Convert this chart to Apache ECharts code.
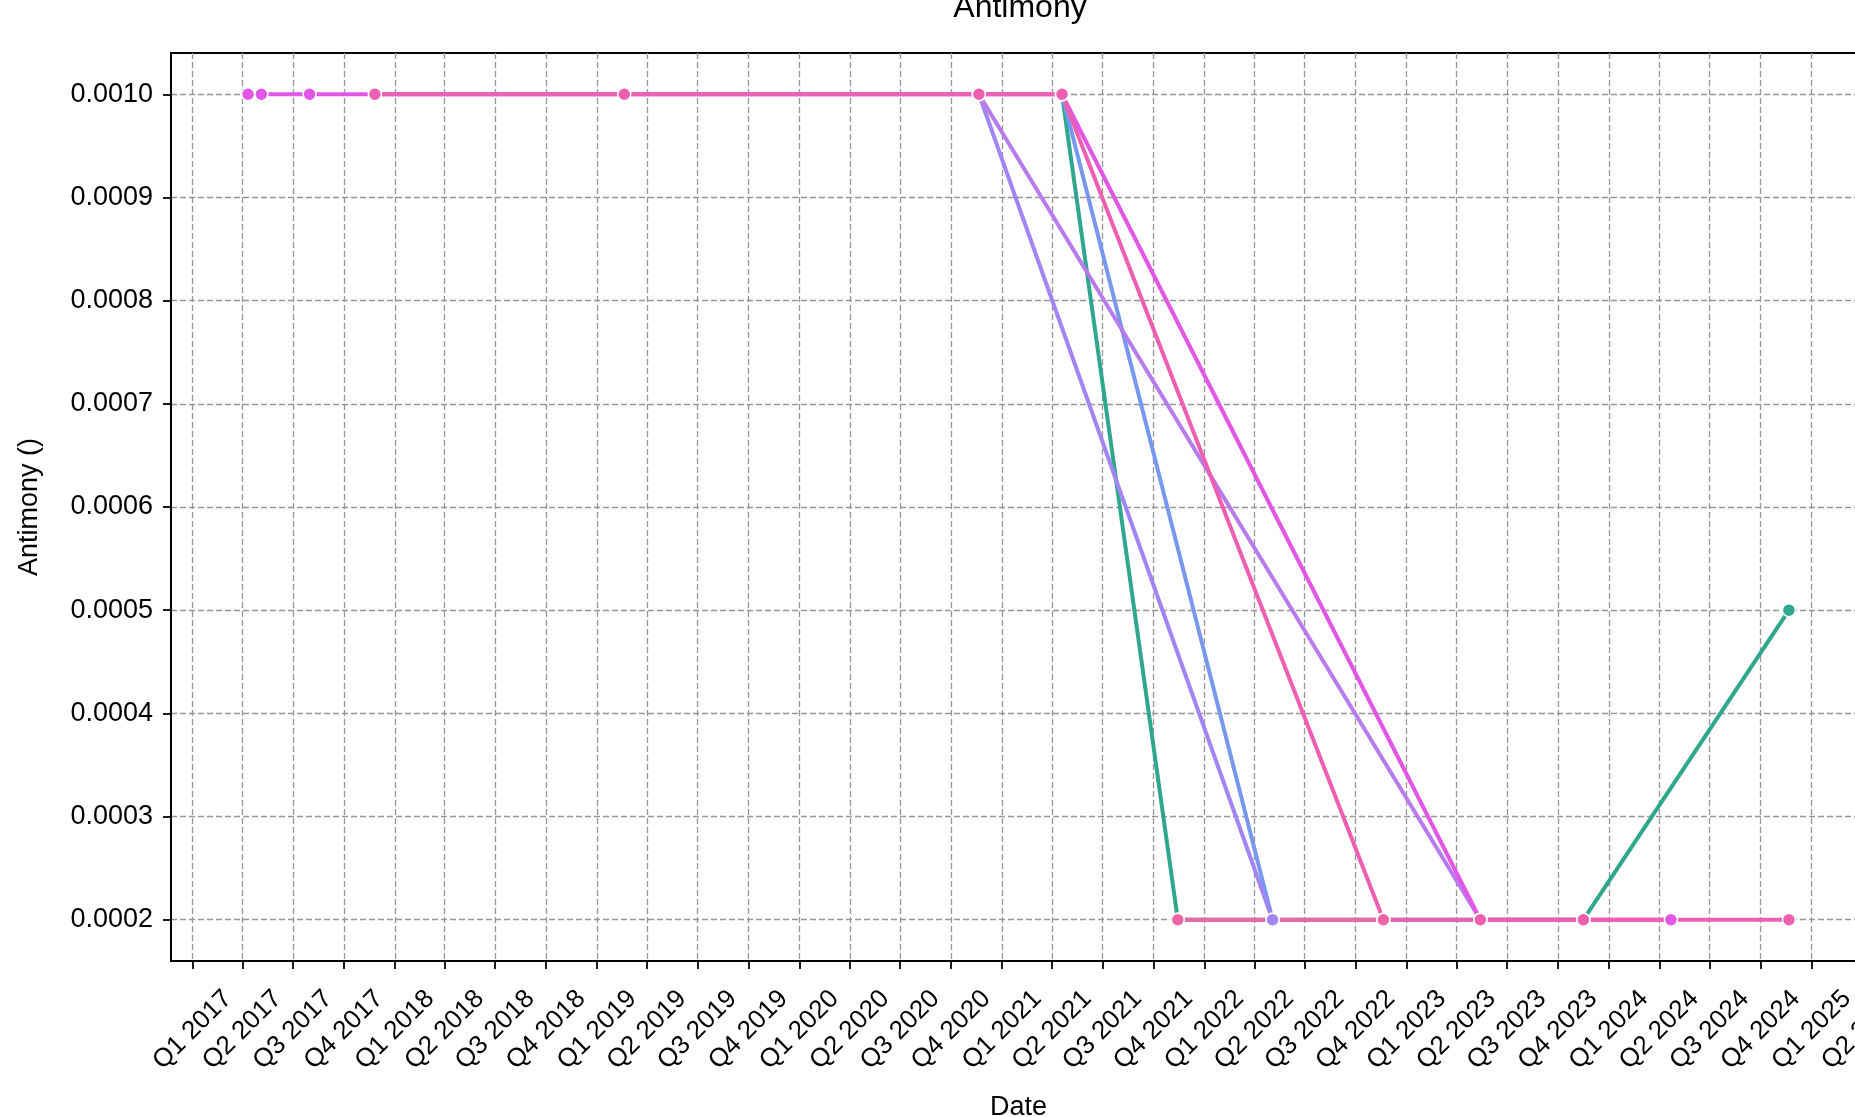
<!DOCTYPE html>
<html>
<head>
<meta charset="utf-8">
<script src="https://cdn.jsdelivr.net/npm/echarts@6/dist/echarts.min.js"></script>
<style>
html,body{margin:0;padding:0;background:#fff;}
#chart{width:1855px;height:1117px;}
</style>
</head>
<body>
<div id="chart"></div>
<script>
// ---- data ----
const seriesNames = ['S1', 'S2', 'S3', 'S4', 'S5', 'S6', 'S7'];
const s1Points = [['2021-04-19', 0.0010], ['2021-11-14', 0.0002], ['2023-11-16', 0.0002], ['2024-11-21', 0.0005]];
const s2Points = [['2021-04-19', 0.0010], ['2022-05-04', 0.0002]];
const s3Points = [['2020-11-20', 0.0010], ['2022-05-04', 0.0002]];
const s4Points = [['2020-11-20', 0.0010], ['2023-05-14', 0.0002]];
const s5Points = [['2017-04-11', 0.0010], ['2017-05-05', 0.0010], ['2017-07-31', 0.0010], ['2017-11-26', 0.0010], ['2021-04-19', 0.0010], ['2023-05-14', 0.0002], ['2024-04-22', 0.0002]];
const s6Points = [['2017-11-26', 0.0010], ['2019-02-19', 0.0010], ['2020-11-20', 0.0010], ['2021-04-19', 0.0010], ['2022-11-20', 0.0002], ['2023-05-14', 0.0002], ['2023-11-16', 0.0002], ['2024-11-21', 0.0002]];
const s7Points = [['2021-11-14', 0.0002], ['2022-11-20', 0.0002]];
const yTickValues = [0.0002, 0.0003, 0.0004, 0.0005, 0.0006, 0.0007, 0.0008, 0.0009, 0.0010];
const yTickLabels = ['0.0002', '0.0003', '0.0004', '0.0005', '0.0006', '0.0007', '0.0008', '0.0009', '0.0010'];
const xTickLabels = [
  'Q1 2017','Q2 2017','Q3 2017','Q4 2017','Q1 2018','Q2 2018','Q3 2018','Q4 2018',
  'Q1 2019','Q2 2019','Q3 2019','Q4 2019','Q1 2020','Q2 2020','Q3 2020','Q4 2020',
  'Q1 2021','Q2 2021','Q3 2021','Q4 2021','Q1 2022','Q2 2022','Q3 2022','Q4 2022',
  'Q1 2023','Q2 2023','Q3 2023','Q4 2023','Q1 2024','Q2 2024','Q3 2024','Q4 2024',
  'Q1 2025','Q2 2025'
];
const colors = ['#2fa68e', '#7897ee', '#a185f2', '#b87bee', '#e256e6', '#ee5fb2', '#ef64a3'];

function toTime(s) {
  const p = s.split('-');
  return Date.UTC(+p[0], +p[1] - 1, +p[2]);
}
// quarter-start timestamps for the tick labels
const xTickValues = xTickLabels.map(function (l) {
  const q = parseInt(l.charAt(1), 10);
  const y = parseInt(l.slice(3), 10);
  return Date.UTC(y, (q - 1) * 3, 1);
});

const allPoints = [s1Points, s2Points, s3Points, s4Points, s5Points, s6Points, s7Points];
const FONT = "'Liberation Sans', Arial, Helvetica, sans-serif";

const chart = echarts.init(document.getElementById('chart'), null, {renderer: 'canvas'});

const series = allPoints.map(function (pts, i) {
  return {
    name: seriesNames[i],
    type: 'line',
    data: pts.map(function (p) { return [toTime(p[0]), p[1]]; }),
    showAllSymbol: true,
    symbol: 'circle',
    symbolSize: 13,
    lineStyle: {color: colors[i], width: 4},
    itemStyle: {color: colors[i], borderColor: '#ffffff', borderWidth: 1.5},
    emphasis: {disabled: true},
    animation: false
  };
});

chart.setOption({
  animation: false,
  backgroundColor: '#ffffff',
  title: {
    text: 'Antimony',
    left: 1015,
    top: -13,
    textAlign: 'center',
    textStyle: {fontFamily: FONT, fontSize: 32, fontWeight: 'normal', color: '#000'}
  },
  grid: {
    left: 171,
    top: 53,
    width: 1695,
    bottom: 156,
    show: true,
    borderColor: '#000',
    borderWidth: 2,
    backgroundColor: 'transparent',
    containLabel: false,
    outerBoundsMode: 'none'
  },
  xAxis: {
    type: 'value',
    scale: true,
    name: 'Date',
    nameLocation: 'middle',
    nameGap: 133,
    nameTextStyle: {fontFamily: FONT, fontSize: 27, color: '#000'},
    min: function (v) { return v.min - (v.max - v.min) * 0.05; },
    max: function (v) { return v.max + (v.max - v.min) * 0.05; },
    axisLine: {show: true, onZero: false, lineStyle: {color: '#000', width: 2}},
    axisTick: {show: true, length: 8, inside: false, customValues: xTickValues, lineStyle: {color: '#000', width: 1.8}},
    axisLabel: {
      customValues: xTickValues,
      rotate: 45,
      align: 'center',
      verticalAlign: 'middle',
      margin: 69,
      fontFamily: FONT,
      fontSize: 26,
      color: '#000',
      hideOverlap: false,
      showMinLabel: true,
      showMaxLabel: true,
      formatter: function (val) {
        let best = 0, bd = Infinity;
        xTickValues.forEach(function (t, k) { const d = Math.abs(t - val); if (d < bd) { bd = d; best = k; } });
        return xTickLabels[best];
      }
    },
    splitLine: {show: true, lineStyle: {color: '#969696', width: 1.3, type: [6, 3]}}
  },
  yAxis: {
    type: 'value',
    scale: true,
    name: 'Antimony ()',
    nameLocation: 'middle',
    nameGap: 128,
    nameTextStyle: {fontFamily: FONT, fontSize: 27, color: '#000'},
    min: function (v) { return v.min - (v.max - v.min) * 0.05; },
    max: function (v) { return v.max + (v.max - v.min) * 0.05; },
    axisLine: {show: true, onZero: false, lineStyle: {color: '#000', width: 2}},
    axisTick: {show: true, length: 8, inside: false, customValues: yTickValues, lineStyle: {color: '#000', width: 1.8}},
    axisLabel: {
      customValues: yTickValues,
      margin: 18,
      fontFamily: FONT,
      fontSize: 27,
      color: '#000',
      showMinLabel: true,
      showMaxLabel: true,
      formatter: function (val) {
        let best = 0, bd = Infinity;
        yTickValues.forEach(function (t, k) { const d = Math.abs(t - val); if (d < bd) { bd = d; best = k; } });
        return yTickLabels[best];
      }
    },
    splitLine: {show: true, lineStyle: {color: '#969696', width: 1.3, type: [6, 3]}}
  },
  series: series
});
</script>
</body>
</html>
